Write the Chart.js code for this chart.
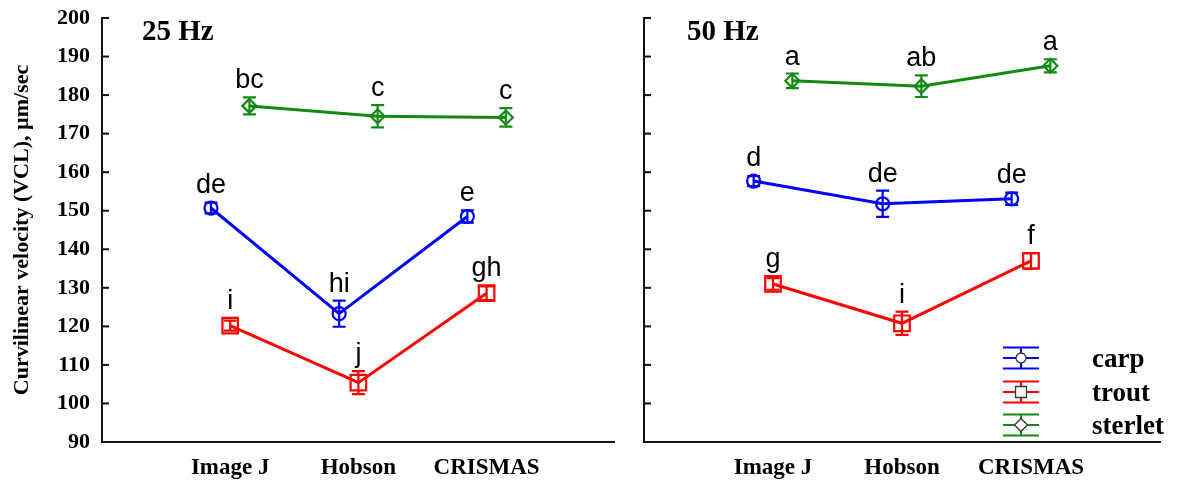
<!DOCTYPE html>
<html>
<head>
<meta charset="utf-8">
<script src="https://cdn.jsdelivr.net/npm/chart.js@4.4.1/dist/chart.umd.min.js"></script>
<style>
  html, body { margin: 0; padding: 0; background: #fff; width: 1181px; height: 481px; overflow: hidden; }
  #left  { position: absolute; left: 0;     top: 0; }
  #right { position: absolute; left: 624px; top: 0; }
</style>
</head>
<body>
<canvas id="left" width="628" height="481"></canvas>
<canvas id="right" width="557" height="481"></canvas>
<script>
// ---- data ----
const categories = ['Image J', 'Hobson', 'CRISMAS'];
const yTitle = 'Curvilinear velocity (VCL), \u00b5m/sec';

// 25 Hz
const carp25       = [150.7, 123.3, 148.5];
const carp25Err    = [1.4, 3.4, 1.6];
const carp25Sig    = ['de', 'hi', 'e'];
const trout25      = [120.2, 105.4, 128.6];
const trout25Err   = [1.3, 3.0, 1.8];
const trout25Sig   = ['i', 'j', 'gh'];
const sterlet25    = [177.2, 174.5, 174.2];
const sterlet25Err = [2.2, 2.9, 2.4];
const sterlet25Sig = ['bc', 'c', 'c'];

// 50 Hz
const carp50       = [157.7, 151.8, 153.1];
const carp50Err    = [1.3, 3.4, 1.6];
const carp50Sig    = ['d', 'de', 'de'];
const trout50      = [131.0, 120.8, 137.0];
const trout50Err   = [1.5, 3.0, 2.0];
const trout50Sig   = ['g', 'i', 'f'];
const sterlet50    = [183.7, 182.3, 187.6];
const sterlet50Err = [1.9, 2.8, 1.7];
const sterlet50Sig = ['a', 'ab', 'a'];

const speciesNames = ['carp', 'trout', 'sterlet'];

// ---- styling per species ----
const speciesStyle = {
  carp:    { color: '#0000ff', pointStyle: 'circle',  radius: 6.5, half: 6.5, shift: -0.15 },
  trout:   { color: '#ff0000', pointStyle: 'rect',    radius: 11,  half: 8,   shift: 0 },
  sterlet: { color: '#138a13', pointStyle: 'rectRot', radius: 7,   half: 7,   shift: 0.15 }
};

function makeDataset(name, values, errors, letters) {
  const st = speciesStyle[name];
  return {
    label: name,
    data: values.map((v, i) => ({ x: i + 1 + st.shift, y: v })),
    errors: errors,
    letters: letters,
    markerHalf: st.half,
    borderColor: st.color,
    backgroundColor: 'rgba(0,0,0,0)',
    borderWidth: 3,
    pointStyle: st.pointStyle,
    pointRadius: st.radius,
    pointBorderWidth: 2.2,
    pointBorderColor: st.color,
    pointBackgroundColor: 'rgba(0,0,0,0)',
    tension: 0
  };
}

// error bars and significance letters
const errorBarPlugin = {
  id: 'errorBars',
  afterDatasetsDraw(chart) {
    const ctx = chart.ctx;
    const yScale = chart.scales.y;
    chart.data.datasets.forEach((ds, i) => {
      const meta = chart.getDatasetMeta(i);
      ctx.save();
      ctx.strokeStyle = ds.borderColor;
      ctx.lineWidth = 2.2;
      meta.data.forEach((pt, j) => {
        const v = ds.data[j].y;
        const e = ds.errors[j];
        const yHi = yScale.getPixelForValue(v + e);
        const yLo = yScale.getPixelForValue(v - e);
        ctx.beginPath();
        ctx.moveTo(pt.x, yHi); ctx.lineTo(pt.x, yLo);
        ctx.moveTo(pt.x - 6.5, yHi); ctx.lineTo(pt.x + 6.5, yHi);
        ctx.moveTo(pt.x - 6.5, yLo); ctx.lineTo(pt.x + 6.5, yLo);
        ctx.stroke();
        const top = Math.min(yHi, pt.y - ds.markerHalf);
        ctx.fillStyle = '#000';
        ctx.font = '27px "Liberation Sans", Arial, sans-serif';
        ctx.textAlign = 'center';
        ctx.textBaseline = 'alphabetic';
        ctx.fillText(ds.letters[j], pt.x, top - 9);
      });
      ctx.restore();
    });
  }
};

// inward tick marks on the value axis
const innerTicksPlugin = {
  id: 'innerTicks',
  afterDraw(chart) {
    const ctx = chart.ctx;
    const yScale = chart.scales.y;
    const x0 = chart.chartArea.left;
    ctx.save();
    ctx.strokeStyle = '#111';
    ctx.lineWidth = 2;
    yScale.ticks.forEach(t => {
      const y = yScale.getPixelForValue(t.value);
      ctx.beginPath();
      ctx.moveTo(x0, y);
      ctx.lineTo(x0 + 7, y);
      ctx.stroke();
    });
    ctx.restore();
  }
};

// panel caption (frequency)
const panelTitlePlugin = {
  id: 'panelTitle',
  afterDraw(chart, args, opts) {
    const ctx = chart.ctx;
    ctx.save();
    ctx.fillStyle = '#000';
    ctx.font = 'bold 29px "Liberation Serif", "Times New Roman", serif';
    ctx.textAlign = 'left';
    ctx.textBaseline = 'alphabetic';
    ctx.fillText(opts.text, chart.chartArea.left + opts.dx, chart.chartArea.top + 22);
    ctx.restore();
  }
};

// species key with error-bar style symbols
const speciesKeyPlugin = {
  id: 'speciesKey',
  afterDraw(chart, args, opts) {
    if (!opts.show) return;
    const ctx = chart.ctx;
    const area = chart.chartArea;
    const cx = area.right - 139;
    const rows = [area.bottom - 84, area.bottom - 50, area.bottom - 17];
    speciesNames.forEach((name, i) => {
      const st = speciesStyle[name];
      const cy = rows[i];
      ctx.save();
      ctx.strokeStyle = st.color;
      ctx.lineWidth = 2;
      ctx.beginPath();
      [-10.5, 0, 10.5].forEach(dy => { ctx.moveTo(cx - 18, cy + dy); ctx.lineTo(cx + 18, cy + dy); });
      ctx.moveTo(cx, cy - 10.5); ctx.lineTo(cx, cy + 10.5);
      ctx.stroke();
      ctx.fillStyle = '#fff';
      ctx.strokeStyle = '#333';
      ctx.lineWidth = 1.3;
      ctx.beginPath();
      if (name === 'carp') {
        ctx.arc(cx, cy, 5, 0, Math.PI * 2);
      } else if (name === 'trout') {
        ctx.rect(cx - 5.5, cy - 5.5, 11, 11);
      } else {
        ctx.moveTo(cx, cy - 6.5); ctx.lineTo(cx + 6.5, cy); ctx.lineTo(cx, cy + 6.5); ctx.lineTo(cx - 6.5, cy); ctx.closePath();
      }
      ctx.fill();
      ctx.stroke();
      ctx.fillStyle = '#000';
      ctx.font = 'bold 27px "Liberation Serif", "Times New Roman", serif';
      ctx.textAlign = 'left';
      ctx.textBaseline = 'alphabetic';
      ctx.fillText(name, area.right - 68, cy + 9);
      ctx.restore();
    });
  }
};

function buildOptions(isLeft, caption, captionDx) {
  const serifBold = (size) => ({ family: '"Liberation Serif", "Times New Roman", serif', weight: 'bold', size: size });
  return {
    responsive: false,
    animation: false,
    devicePixelRatio: 1,
    layout: { padding: { top: 18, right: isLeft ? 9 : 21, left: 0, bottom: 0 } },
    plugins: {
      legend: { display: false },
      tooltip: { enabled: false },
      panelTitle: { text: caption, dx: captionDx },
      speciesKey: { show: !isLeft }
    },
    scales: {
      x: {
        type: 'linear',
        min: 0,
        max: 4,
        grid: { display: false, drawTicks: false },
        border: { display: true, color: '#111', width: 2 },
        ticks: {
          stepSize: 1,
          autoSkip: false,
          maxRotation: 0,
          padding: 12,
          color: '#000',
          font: serifBold(23),
          callback: (v) => categories[v - 1] || ''
        },
        afterFit: (s) => { s.height = 39; s.paddingLeft = 0; s.paddingRight = 0; }
      },
      y: {
        min: 90,
        max: 200,
        grid: { display: false, drawTicks: false },
        border: { display: true, color: '#111', width: 2 },
        ticks: {
          display: isLeft,
          stepSize: 10,
          padding: 12,
          color: '#000',
          font: serifBold(22)
        },
        title: {
          display: isLeft,
          text: yTitle,
          color: '#000',
          font: serifBold(22),
          padding: { top: 9, bottom: 0 }
        },
        afterFit: (s) => { s.width = isLeft ? 102 : 20; s.paddingTop = 0; s.paddingBottom = 0; }
      }
    }
  };
}

const plugins = [errorBarPlugin, innerTicksPlugin, panelTitlePlugin, speciesKeyPlugin];

new Chart(document.getElementById('left'), {
  type: 'line',
  data: {
    datasets: [
      makeDataset('sterlet', sterlet25, sterlet25Err, sterlet25Sig),
      makeDataset('carp', carp25, carp25Err, carp25Sig),
      makeDataset('trout', trout25, trout25Err, trout25Sig)
    ]
  },
  options: buildOptions(true, '25 Hz', 40),
  plugins: plugins
});

new Chart(document.getElementById('right'), {
  type: 'line',
  data: {
    datasets: [
      makeDataset('sterlet', sterlet50, sterlet50Err, sterlet50Sig),
      makeDataset('carp', carp50, carp50Err, carp50Sig),
      makeDataset('trout', trout50, trout50Err, trout50Sig)
    ]
  },
  options: buildOptions(false, '50 Hz', 43),
  plugins: plugins
});
</script>
</body>
</html>
